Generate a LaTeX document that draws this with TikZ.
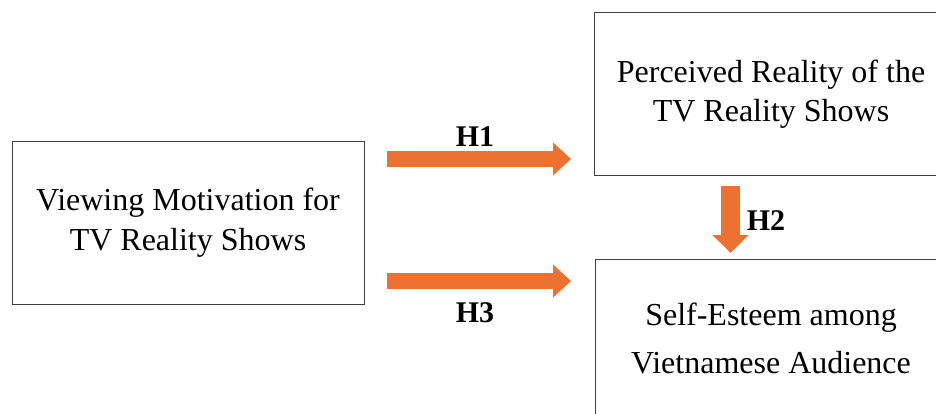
\documentclass[tikz,border=0pt]{standalone}
\usepackage{fontspec}
\setmainfont{Liberation Serif}
\usetikzlibrary{arrows.meta}
\definecolor{arroworange}{RGB}{237,114,49}
\definecolor{boxline}{RGB}{60,60,60}
\tikzset{
  box/.style={draw=boxline, line width=1pt, fill=white, inner sep=0pt},
  boxtext/.style={anchor=base, inner sep=0pt, font=\fontsize{32}{38}\selectfont},
  hlabel/.style={anchor=base, inner sep=0pt, font=\fontsize{30}{36}\selectfont\bfseries},
  harrow/.style={draw=arroworange, line width=16pt, -{Triangle[length=18pt,width=32pt]}},
  varrow/.style={draw=arroworange, line width=19pt, -{Triangle[length=18pt,width=35pt]}}
}
\begin{document}
\begin{tikzpicture}[x=1pt,y=-1pt]
\useasboundingbox (0,0) rectangle (936,414);
\begin{scope}
\clip (0,0) rectangle (936,414);
% boxes
\node[box, minimum width=352pt, minimum height=162pt] (motiv) at (188,223) {};
\node[box, minimum width=360pt, minimum height=163pt] (real) at (774,94.5) {};
\node[box, minimum width=360pt, minimum height=180pt] (self) at (775,349) {};
\end{scope}
% texts
\node[boxtext] (m1) at (188,211) {Viewing Motivation for};
\node[boxtext] (m2) at (188,250) {TV Reality Shows};
\node[boxtext] (r1) at (771,83) {Perceived Reality of the};
\node[boxtext] (r2) at (771,122) {TV Reality Shows};
\node[boxtext] (s1) at (771,325) {Self-Esteem among};
\node[boxtext] (s2) at (771,373) {Vietnamese Audience};
% arrow end points
\coordinate (h1s) at (387,159);
\coordinate (h1e) at (571,159);
\coordinate (h3s) at (387,281);
\coordinate (h3e) at (571,281);
\coordinate (h2s) at (730.5,186);
\coordinate (h2e) at (730.5,253);
\draw[harrow] (h1s) -- (h1e);
\draw[harrow] (h3s) -- (h3e);
\draw[varrow] (h2s) -- (h2e);
% labels
\node[hlabel] (H1) at (475,147) {H1};
\node[hlabel] (H3) at (475,322) {H3};
\node[hlabel] (H2) at (766,230) {H2};
\end{tikzpicture}
\end{document}
